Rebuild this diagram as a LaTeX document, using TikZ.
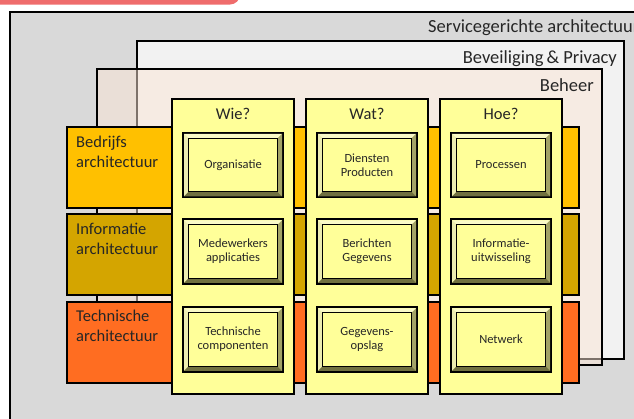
\documentclass[tikz,border=0pt]{standalone}
\usepackage{fontspec}
\setmainfont{Carlito}
\usetikzlibrary{calc}
\definecolor{soagray}{HTML}{D9D9D9}
\definecolor{bevgray}{HTML}{F2F2F2}
\definecolor{behfill}{HTML}{FBE5D6}
\definecolor{bedrijf}{HTML}{FFC000}
\definecolor{informatie}{HTML}{D4A500}
\definecolor{technisch}{HTML}{FF6D21}
\definecolor{colyellow}{HTML}{FFFF99}
\definecolor{redbar}{HTML}{EF6C6C}
\definecolor{txt}{HTML}{262626}
\definecolor{bevlight}{HTML}{FAFAC8}
\definecolor{bevleft}{HTML}{EDEDB0}
\definecolor{bevright}{HTML}{A3A366}
\definecolor{bevdark}{HTML}{707040}
\tikzset{
  layer/.style={draw=black, line width=2pt, inner sep=0pt, outer sep=0pt},
  band/.style={draw=black, line width=2.5pt, inner sep=0pt, outer sep=0pt, minimum width=512pt, minimum height=81pt},
  column/.style={draw=black, line width=2.5pt, fill=colyellow, inner sep=0pt, outer sep=0pt, minimum width=122pt, minimum height=295pt},
  cell/.style={draw=black, line width=2pt, fill=colyellow, inner sep=0pt, outer sep=0pt, minimum width=100pt, minimum height=64.5pt, align=center, text=txt, font=\fontsize{12.5}{14}\selectfont},
  layerlabel/.style={inner sep=0pt, text=txt, font=\fontsize{18.5}{20}\selectfont},
  header/.style={inner sep=0pt, text=txt, font=\fontsize{16.5}{20}\selectfont, anchor=base},
  bandlabel/.style={inner sep=0pt, text=txt, align=left, anchor=north west, font=\fontsize{16.5}{20}\selectfont},
}
\def\bevo{1}
\def\bevi{5.5}
\newcommand\bevcell[4]{%
  \node[cell] (#1) at (#2,#3) {#4};
  \fill[bevlight] ($(#1.north west)+(\bevo,\bevo)$) -- ($(#1.north east)+(-\bevo,\bevo)$) -- ($(#1.north east)+(-\bevi,\bevi)$) -- ($(#1.north west)+(\bevi,\bevi)$) -- cycle;
  \fill[bevleft] ($(#1.north west)+(\bevo,\bevo)$) -- ($(#1.south west)+(\bevo,-\bevo)$) -- ($(#1.south west)+(\bevi,-\bevi)$) -- ($(#1.north west)+(\bevi,\bevi)$) -- cycle;
  \fill[bevright] ($(#1.north east)+(-\bevo,\bevo)$) -- ($(#1.south east)+(-\bevo,-\bevo)$) -- ($(#1.south east)+(-\bevi,-\bevi)$) -- ($(#1.north east)+(-\bevi,\bevi)$) -- cycle;
  \fill[bevdark] ($(#1.south west)+(\bevo,-\bevo)$) -- ($(#1.south east)+(-\bevo,-\bevo)$) -- ($(#1.south east)+(-\bevi,-\bevi)$) -- ($(#1.south west)+(\bevi,-\bevi)$) -- cycle;
  \draw[black, line width=1.2pt] ($(#1.north west)+(\bevi,\bevi)$) rectangle ($(#1.south east)+(-\bevi,-\bevi)$);
}
\begin{document}
\begin{tikzpicture}[x=1pt,y=-1pt]
\useasboundingbox (0,0) rectangle (634,418);
\clip (0,0) rectangle (634,418);
\fill[white] (0,0) rectangle (634,418);
% red bar at top
\fill[redbar, rounded corners=10pt] (-20,-20) rectangle (240,4.5);
% layers
\node[layer, fill=soagray, minimum width=650.5pt, minimum height=428pt] (soa) at (334.75,226) {};
\node[layer, fill=bevgray, minimum width=487pt, minimum height=318pt] (bev) at (380.5,200) {};
\node[layer, fill=behfill, fill opacity=0.5, minimum width=505pt, minimum height=296pt] (beh) at (349.5,217) {};
\node[layerlabel, anchor=base west] (soatxt) at (428,32) {Servicegerichte architectuur};
\node[layerlabel, anchor=base east] (bevtxt) at (617,63) {Beveiliging\,\&~Privacy};
\node[layerlabel, anchor=base east] (behtxt) at (594,91) {Beheer};
% bands
\node[band, fill=bedrijf] (bedr) at (323,167.5) {};
\node[band, fill=informatie] (info) at (323,254.5) {};
\node[band, fill=technisch] (tech) at (323,342.5) {};
\node[bandlabel] (bedrtxt) at (76,133) {\strut Bedrijfs\\architectuur};
\node[bandlabel] (infotxt) at (76,220) {\strut Informatie\\architectuur};
\node[bandlabel] (techtxt) at (76,307.5) {\strut Technische\\architectuur};
% columns
\node[column] (wie) at (233,246.5) {};
\node[column] (wat) at (367,246.5) {};
\node[column] (hoe) at (501,246.5) {};
\node[header] (wietxt) at (233,119) {Wie?};
\node[header] (wattxt) at (367,119) {Wat?};
\node[header] (hoetxt) at (501,119) {Hoe?};
% cells
\bevcell{org}{233}{165}{Organisatie}
\bevcell{dien}{367}{165}{Diensten\\Producten}
\bevcell{proc}{501}{165}{Processen}
\bevcell{mede}{233}{251.5}{Medewerkers\\applicaties}
\bevcell{beri}{367}{251.5}{Berichten\\Gegevens}
\bevcell{infu}{501}{251.5}{Informatie-\\uitwisseling}
\bevcell{tcomp}{233}{339.5}{Technische\\componenten}
\bevcell{gego}{367}{339.5}{Gegevens-\\opslag}
\bevcell{netw}{501}{339.5}{Netwerk}
\end{tikzpicture}
\end{document}
